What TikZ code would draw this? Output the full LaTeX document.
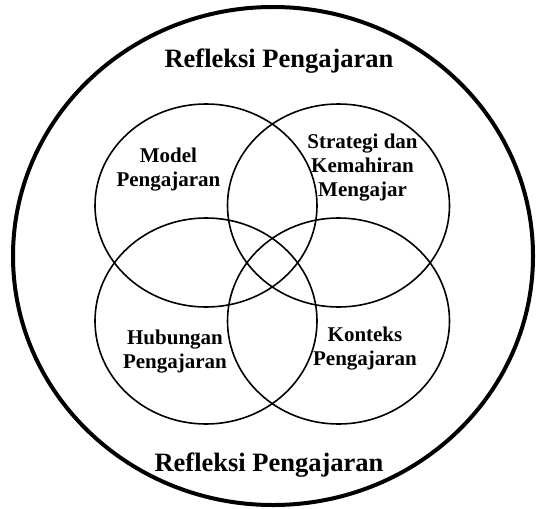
\documentclass[tikz,border=0pt]{standalone}
\usepackage{fontspec}
\setmainfont{Liberation Serif}
\begin{document}
\begin{tikzpicture}[x=1pt,y=-1pt,
  outer/.style={line width=4pt},
  venn/.style={line width=1.6pt},
  biglabel/.style={font=\bfseries\fontsize{26.5}{30}\selectfont, inner sep=0pt, anchor=base},
  lbl/.style={font=\bfseries\fontsize{21}{24}\selectfont, inner sep=0pt, align=center}]
\useasboundingbox (0,0) rectangle (537,508);
\draw[outer] (273,256) ellipse [x radius=260, y radius=249];
\draw[venn] (206,205.5) ellipse [x radius=111, y radius=101.5];
\draw[venn] (338.5,205.5) ellipse [x radius=111, y radius=101.5];
\draw[venn] (206,321) ellipse [x radius=111, y radius=103];
\draw[venn] (338.5,321) ellipse [x radius=111, y radius=103];
\node[biglabel] (top) at (279,67.5) {Refleksi Pengajaran};
\node[biglabel] (bot) at (269,471) {Refleksi Pengajaran};
\node[lbl] (model) at (168.5,170) {Model\\Pengajaran};
\node[lbl] (strat) at (362.5,168) {Strategi dan\\Kemahiran\\Mengajar};
\node[lbl] (hub) at (175,351.7) {Hubungan\\Pengajaran};
\node[lbl] (kon) at (365,348.6) {Konteks\\Pengajaran};
\end{tikzpicture}
\end{document}
